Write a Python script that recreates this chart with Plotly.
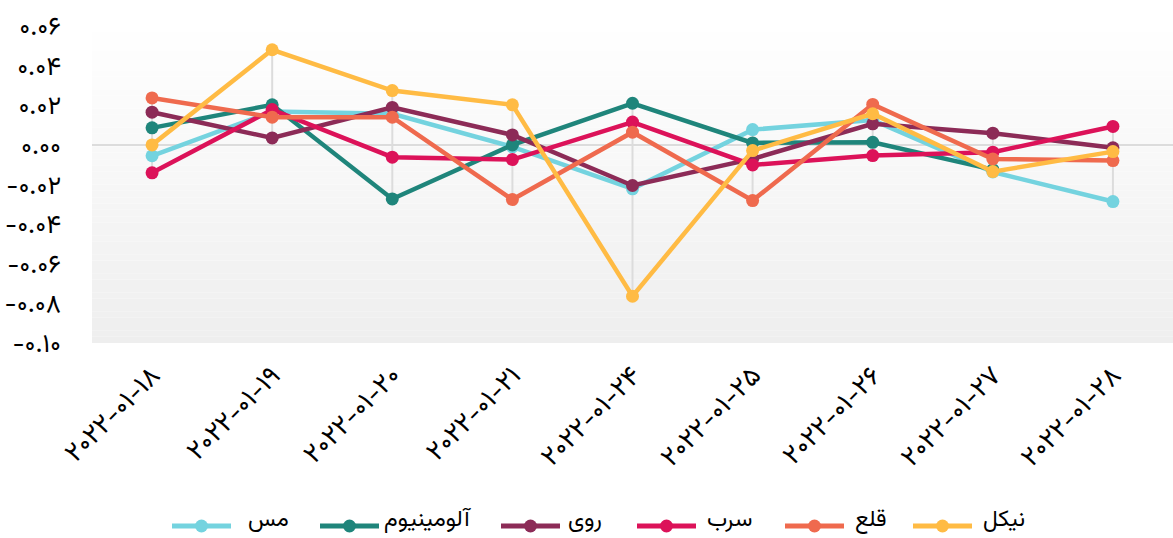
import numpy as np
import plotly.graph_objects as go

dates = ["۲۰۲۲-۰۱-۱۸", "۲۰۲۲-۰۱-۱۹", "۲۰۲۲-۰۱-۲۰", "۲۰۲۲-۰۱-۲۱", "۲۰۲۲-۰۱-۲۴",
         "۲۰۲۲-۰۱-۲۵", "۲۰۲۲-۰۱-۲۶", "۲۰۲۲-۰۱-۲۷", "۲۰۲۲-۰۱-۲۸"]

mes = [-0.0055, 0.0168, 0.0157, -0.001, -0.0222, 0.0077, 0.0125, -0.0137, -0.0286]
aluminium = [0.0086, 0.0202, -0.0273, 0.0, 0.021, 0.001, 0.0013, -0.0125, None]
roy = [0.0165, 0.0035, 0.0189, 0.005, -0.0205, -0.0071, 0.0106, 0.0059, -0.0015]
sorb = [-0.0141, 0.0178, -0.0062, -0.0074, 0.0115, -0.0101, -0.0054, -0.0037, 0.0093]
qal = [0.0237, 0.014, 0.014, -0.0276, 0.0064, -0.0281, 0.0204, -0.0071, -0.0079]
nickel = [0.0, 0.048, 0.0274, 0.0202, -0.0764, -0.0029, 0.0157, -0.0135, -0.0034]

series_names = ["مس", "آلومینیوم", "روی", "سرب", "قلع", "نیکل"]
series_values = [mes, aluminium, roy, sorb, qal, nickel]
colors = ["#74d3df", "#1f857b", "#8c2b57", "#dc1259", "#ef6a4e", "#ffbb44"]

y_tickvals = [-0.10, -0.08, -0.06, -0.04, -0.02, 0.0, 0.02, 0.04, 0.06]
y_ticktext = ["-۰.۱۰", "-۰.۰۸", "-۰.۰۶", "-۰.۰۴", "-۰.۰۲", "۰.۰۰", "۰.۰۲", "۰.۰۴", "۰.۰۶"]

# legend layout (pixel positions in figure)
legend_sym_x = [172, 320, 501, 637, 785, 913]
legend_txt_x = [247, 383, 567, 706, 854, 982]
LEG_Y = 526
LEG_TXT_Y = 520

FONT = "Vazirmatn, 'Noto Sans Arabic', 'DejaVu Sans', sans-serif"
W, H = 1173, 538
ML, MR, MT, MB = 92, 0, 26, 195
PW, PH = W - ML - MR, H - MT - MB


def px_x(px):
    return (px - ML) / PW


def px_y(py):
    return (H - MB - py) / PH


fig = go.Figure()

# min-max guide lines at each date
arr = np.array([[np.nan if v is None else v for v in s] for s in series_values], dtype=float)
lo = np.nanmin(arr, axis=0)
hi = np.nanmax(arr, axis=0)
gx, gy = [], []
for d, a, b in zip(dates, lo, hi):
    gx += [d, d, None]
    gy += [a, b, None]
fig.add_trace(go.Scatter(x=gx, y=gy, mode="lines", line=dict(color="#dcdcdc", width=2),
                         showlegend=False, hoverinfo="skip"))

for name, vals, col in zip(series_names, series_values, colors):
    fig.add_trace(go.Scatter(x=dates, y=vals, name=name, mode="lines+markers",
                             line=dict(color=col, width=4.5),
                             marker=dict(color=col, size=13), showlegend=False))

# vertical gradient background
n = 50
shapes = []
top = np.array([255, 255, 255])
bot = np.array([238, 238, 238])
for i in range(n):
    t = (i + 0.5) / n
    c = (bot * (1 - t) + top * t).round().astype(int)
    shapes.append(dict(type="rect", xref="x domain", yref="y domain",
                       x0=0, x1=1, y0=i / n, y1=(i + 1) / n,
                       fillcolor=f"rgb({c[0]},{c[1]},{c[2]})",
                       line=dict(width=0), layer="below"))

# custom legend
annotations = []
for name, col, sx, tx in zip(series_names, colors, legend_sym_x, legend_txt_x):
    shapes.append(dict(type="line", xref="paper", yref="paper",
                       x0=px_x(sx), x1=px_x(sx + 59), y0=px_y(LEG_Y), y1=px_y(LEG_Y),
                       line=dict(color=col, width=5)))
    shapes.append(dict(type="circle", xref="paper", yref="paper",
                       xsizemode="pixel", ysizemode="pixel",
                       xanchor=px_x(sx + 29.5), yanchor=px_y(LEG_Y),
                       x0=-6.5, x1=6.5, y0=-6.5, y1=6.5,
                       fillcolor=col, line=dict(width=0)))
    annotations.append(dict(text=name, xref="paper", yref="paper",
                            x=px_x(tx), y=px_y(LEG_TXT_Y), xanchor="left", yanchor="middle",
                            borderpad=0, showarrow=False,
                            font=dict(size=23, family=FONT, color="#000")))

fig.update_layout(
    width=W, height=H,
    margin=dict(l=ML, r=MR, t=MT, b=MB, autoexpand=False),
    paper_bgcolor="white", plot_bgcolor="white",
    font=dict(family=FONT, color="#000000", size=16),
    shapes=shapes, annotations=annotations,
    showlegend=False,
    hovermode=False,
    xaxis=dict(type="category", range=[-0.5, 8.5], showgrid=False, zeroline=False,
               tickangle=-45, tickfont=dict(size=27), ticks="", showline=False,
               ticklabelstandoff=10, automargin=False),
    yaxis=dict(range=[-0.10, 0.06], tickvals=y_tickvals, ticktext=y_ticktext,
               showgrid=False, zeroline=True, zerolinecolor="#dcdcdc", zerolinewidth=2,
               tickfont=dict(size=26), ticklabelstandoff=30, showline=False,
               automargin=False),
)

fig.write_html("out.html", config={"displayModeBar": False},
               post_script="document.body.style.margin='0';document.body.style.overflow='hidden';")
